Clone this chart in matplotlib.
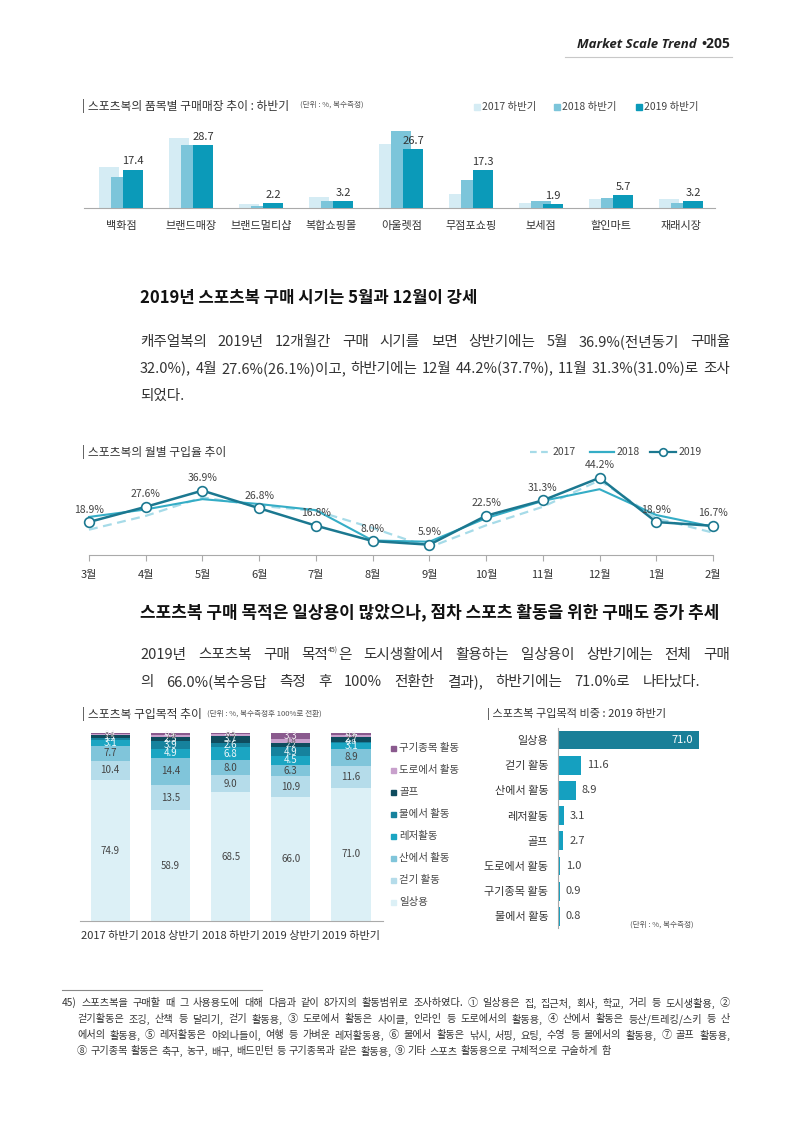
import matplotlib
matplotlib.use('Agg')
import matplotlib.pyplot as plt
from matplotlib.lines import Line2D
from matplotlib.patches import Rectangle

plt.rcParams['font.family'] = ['Noto Sans CJK KR', 'DejaVu Sans']

# ---------------- data ----------------
stores = ['백화점', '브랜드매장', '브랜드멀티샵', '복합쇼핑몰', '아울렛점',
          '무점포쇼핑', '보세점', '할인마트', '재래시장']
store_2017 = [18.5, 31.8, 1.7, 4.8, 29.0, 6.3, 2.2, 4.2, 4.2]
store_2018 = [14.1, 28.7, 1.0, 3.2, 34.8, 12.7, 3.1, 4.5, 2.3]
store_2019 = [17.4, 28.7, 2.2, 3.2, 26.7, 17.3, 1.9, 5.7, 3.2]
store_series = ['2017 하반기', '2018 하반기', '2019 하반기']

months = ['3월', '4월', '5월', '6월', '7월', '8월', '9월', '10월', '11월', '12월', '1월', '2월']
month_2017 = [14.5, 22.4, 33.0, 28.2, 25.3, 15.5, 4.4, 17.0, 27.6, 42.8, 21.0, 12.8]
month_2018 = [21.8, 26.1, 32.0, 29.2, 25.7, 8.3, 7.6, 21.1, 31.0, 37.7, 22.9, 16.2]
month_2019 = [18.9, 27.6, 36.9, 26.8, 16.8, 8.0, 5.9, 22.5, 31.3, 44.2, 18.9, 16.7]

periods = ['2017 하반기', '2018 상반기', '2018 하반기', '2019 상반기', '2019 하반기']
purposes = ['일상용', '걷기 활동', '산에서 활동', '레저활동', '물에서 활동', '골프',
            '도로에서 활동', '구기종목 활동']
p_daily = [74.9, 58.9, 68.5, 66.0, 71.0]
p_walk = [10.4, 13.5, 9.0, 10.9, 11.6]
p_mountain = [7.7, 14.4, 8.0, 6.3, 8.9]
p_leisure = [3.1, 4.9, 6.8, 4.5, 3.1]
p_water = [1.2, 3.9, 2.6, 4.9, 0.8]
p_golf = [1.5, 2.5, 3.7, 2.2, 2.7]
p_road = [0.8, 1.0, 0.9, 1.8, 1.0]
p_ball = [0.4, 0.9, 0.5, 3.3, 0.9]

share_labels = ['일상용', '걷기 활동', '산에서 활동', '레저활동', '골프', '도로에서 활동',
                '구기종목 활동', '물에서 활동']
share_values = [71.0, 11.6, 8.9, 3.1, 2.7, 1.0, 0.9, 0.8]

# ---------------- helpers ----------------
W, H = 800, 1131
fig = plt.figure(figsize=(8, 11.31), dpi=100)
fig.patch.set_facecolor('white')
R = fig.canvas.get_renderer()


def ax_px(l, t, r, b):
    return fig.add_axes([l / W, 1 - b / H, (r - l) / W, (b - t) / H])


def txt(x, y, s, **kw):
    kw.setdefault('va', 'center')
    return fig.text(x / W, 1 - y / H, s, **kw)


def square(x, y, size, color):
    fig.patches.append(Rectangle((x / W, 1 - (y + size / 2) / H), size / W, size / H,
                                 transform=fig.transFigure, color=color, zorder=5))


def hline(x0, x1, y, color='#999999', lw=0.8):
    fig.add_artist(Line2D([x0 / W, x1 / W], [1 - y / H, 1 - y / H],
                          transform=fig.transFigure, color=color, lw=lw))


def text_line(words, x0, x1, y, size, color='#333333', weight='normal', justify=True):
    """words: list of words; each word is a str or list of (text, size, dy_px)."""
    segs_all = []
    widths = []
    for w in words:
        segs = [(w, size, 0)] if isinstance(w, str) else w
        ws = []
        for s, fs, dy in segs:
            t = txt(x0, y - dy, s, fontsize=fs, color=color, ha='left', weight=weight)
            ws.append(t.get_window_extent(R).width)
            segs_all.append(t)
        widths.append(ws)
    total = sum(sum(ws) for ws in widths)
    if justify and len(words) > 1:
        gap = (x1 - x0 - total) / (len(words) - 1)
    else:
        gap = size * 100 / 72 * 0.3
    x = x0
    k = 0
    for ws in widths:
        for wseg in ws:
            t = segs_all[k]
            pos = t.get_position()
            t.set_position((x / W, pos[1]))
            x += wseg
            k += 1
        x += gap


# ---------------- header ----------------
txt(730, 44, '•205', fontsize=10, ha='right', weight='bold', color='#222222',
    family=['Open Sans', 'DejaVu Sans'])
txt(697, 44, 'Market Scale Trend', fontsize=9.5, ha='right', weight='bold', style='italic',
    color='#222222', family=['Open Sans', 'DejaVu Sans'])
hline(565, 732, 57, color='#c8c8c8', lw=0.8)

# ---------------- chart 1: stores ----------------
c_store = ['#d5ecf4', '#7cc5da', '#0b9ab9']
txt(82, 106, '| 스포츠복의 품목별 구매매장 추이 : 하반기', fontsize=8.5, color='#333333')
txt(300, 105, '(단위 : %, 복수측정)', fontsize=5.5, color='#555555')
for i, (lab, xx) in enumerate(zip(store_series, [474, 554, 636])):
    square(xx, 107, 6, c_store[i])
    txt(xx + 8, 107, lab, fontsize=7.5, color='#444444')

ax1 = ax_px(84, 115, 715, 208)
bw = 20 / 70
offs = [-12 / 70, 0, 12 / 70]
for k, vals in enumerate([store_2017, store_2018, store_2019]):
    ax1.bar([i + offs[k] for i in range(len(stores))], vals, width=bw, color=c_store[k],
            zorder=2 + k)
for i, v in enumerate(store_2019):
    ax1.text(i + offs[2], v + 1.5, f'{v:.1f}', ha='center', va='bottom', fontsize=8,
             color='#333333')
ax1.set_xlim(-0.53, 8.48)
ax1.set_ylim(0, 42.3)
ax1.set_yticks([])
ax1.set_xticks(range(len(stores)))
ax1.set_xticklabels(stores, fontsize=8, color='#333333')
ax1.tick_params(axis='x', length=0, pad=9)
for s in ['top', 'right', 'left']:
    ax1.spines[s].set_visible(False)
ax1.spines['bottom'].set_color('#aaaaaa')
ax1.patch.set_alpha(0)

# ---------------- section 1 text ----------------
txt(140, 298, '2019년 스포츠복 구매 시기는 5월과 12월이 강세', fontsize=12, weight='bold',
    color='#111111')
p1 = ['캐주얼복의 2019년 12개월간 구매 시기를 보면 상반기에는 5월 36.9%(전년동기 구매율',
      '32.0%), 4월 27.6%(26.1%)이고, 하반기에는 12월 44.2%(37.7%), 11월 31.3%(31.0%)로 조사',
      '되었다.']
text_line(p1[0].split(' '), 140, 730, 342, 10.5)
text_line(p1[1].split(' '), 140, 730, 369, 10.5)
text_line([p1[2]], 140, 730, 396, 10.5, justify=False)

# ---------------- chart 2: monthly ----------------
c17, c18, c19 = '#a6dbe8', '#35adc6', '#1b7890'
txt(82, 452, '| 스포츠복의 월별 구입율 추이', fontsize=8.5, color='#333333')
fig.add_artist(Line2D([530 / W, 550 / W], [1 - 452 / H] * 2, transform=fig.transFigure,
                      color=c17, lw=1.6, ls=(0, (3, 2))))
txt(553, 452, '2017', fontsize=7.5, color='#444444')
fig.add_artist(Line2D([590 / W, 614 / W], [1 - 452 / H] * 2, transform=fig.transFigure,
                      color=c18, lw=1.6))
txt(617, 452, '2018', fontsize=7.5, color='#444444')
fig.add_artist(Line2D([650 / W, 676 / W], [1 - 452 / H] * 2, transform=fig.transFigure,
                      color=c19, lw=1.6))
fig.add_artist(Line2D([663 / W], [1 - 452 / H], transform=fig.transFigure, marker='o',
                      markersize=5.5, markerfacecolor='white', markeredgecolor=c19, mew=1.2))
txt(679, 452, '2019', fontsize=7.5, color='#444444')

ax2 = ax_px(89, 459, 713, 555)
x = list(range(len(months)))
ax2.plot(x, month_2017, color=c17, lw=1.6, ls=(0, (4, 2.5)), zorder=2, clip_on=False)
ax2.plot(x, month_2018, color=c18, lw=1.5, zorder=3, clip_on=False)
ax2.plot(x, month_2019, color=c19, lw=1.8, zorder=4, marker='o', markersize=7,
         markerfacecolor='white', markeredgecolor=c19, mew=1.2, clip_on=False)
for i, v in enumerate(month_2019):
    ax2.annotate(f'{v:.1f}%', (i, v), xytext=(0, 9), textcoords='offset points',
                 ha='center', va='center', fontsize=7.5, color='#444444', zorder=6)
ax2.set_xlim(0, 11)
ax2.set_ylim(0, 55)
ax2.set_yticks([])
ax2.set_xticks(x)
ax2.set_xticklabels(months, fontsize=8, color='#333333')
ax2.tick_params(axis='x', length=4, pad=7, color='#aaaaaa')
for s in ['top', 'right', 'left']:
    ax2.spines[s].set_visible(False)
ax2.spines['bottom'].set_color('#aaaaaa')
ax2.patch.set_alpha(0)

# ---------------- section 2 text ----------------
txt(140, 612, '스포츠복 구매 목적은 일상용이 많았으나, 점차 스포츠 활동을 위한 구매도 증가 추세',
    fontsize=12.2, weight='bold', color='#111111')
w2 = ['2019년', '스포츠복', '구매', [('목적', 10.5, 0), ('45)', 5, 4), ('은', 10.5, 0)],
      '도시생활에서', '활용하는', '일상용이', '상반기에는', '전체', '구매']
text_line(w2, 140, 730, 655, 10.5)
text_line('의 66.0%(복수응답 측정 후 100% 전환한 결과), 하반기에는 71.0%로 나타났다.'.split(' '),
          140, 700, 682, 10.5)

# ---------------- chart 3: stacked ----------------
c_purp = ['#dcf0f6', '#b5dcea', '#80c5da', '#1ba5c2', '#16829d', '#0f4c5e', '#c8a0cc',
          '#8a5a8e']
lab_col = ['#444444', '#444444', '#444444', '#eef8fb', '#eef8fb', '#eef8fb', '#555555',
           '#f3eaf4']
txt(82, 714, '| 스포츠복 구입목적 추이', fontsize=8.5, color='#333333')
txt(207, 714, '(단위 : %, 복수측정후 100%로 전환)', fontsize=5.5, color='#555555')

ax3 = ax_px(80, 733, 383, 921)
series = [p_daily, p_walk, p_mountain, p_leisure, p_water, p_golf, p_road, p_ball]
bottom = [0.0] * len(periods)
for k, vals in enumerate(series):
    ax3.bar(range(len(periods)), vals, bottom=bottom, width=0.65, color=c_purp[k],
            zorder=2)
    for i, v in enumerate(vals):
        fs = 7 if v >= 2.5 else 5.5
        ax3.text(i, bottom[i] + v / 2, f'{v:.1f}', ha='center', va='center', fontsize=fs,
                 color=lab_col[k], zorder=3)
    bottom = [b + v for b, v in zip(bottom, vals)]
ax3.set_xlim(-0.5, 4.53)
ax3.set_ylim(0, 100)
ax3.set_yticks([])
ax3.set_xticks(range(len(periods)))
ax3.set_xticklabels(periods, fontsize=8, color='#333333')
ax3.tick_params(axis='x', length=0, pad=7)
for s in ['top', 'right', 'left']:
    ax3.spines[s].set_visible(False)
ax3.spines['bottom'].set_color('#aaaaaa')
ax3.patch.set_alpha(0)

leg_y = [748, 770, 792, 814, 836, 858, 880, 902]
for j, k in enumerate(range(len(purposes) - 1, -1, -1)):
    square(391, leg_y[j], 5, c_purp[k])
    txt(399, leg_y[j], purposes[k], fontsize=7.5, color='#444444')

# ---------------- chart 4: horizontal share ----------------
txt(487, 714, '| 스포츠복 구입목적 비중 : 2019 하반기', fontsize=8, color='#333333')
ax4 = ax_px(558, 728, 740, 928)
hcol = ['#197f98'] + ['#15a0c0'] * (len(share_values) - 1)
ax4.barh(range(len(share_values)), share_values, height=0.75, color=hcol, zorder=2)
for i, v in enumerate(share_values):
    if i == 0:
        ax4.text(v - 3, i, f'{v:.1f}', ha='right', va='center', fontsize=8, color='white')
    else:
        ax4.text(v + 3, i, f'{v:.1f}', ha='left', va='center', fontsize=8, color='#444444')
ax4.set_xlim(0, 91.5)
ax4.set_ylim(7.46, -0.476)
ax4.set_xticks([])
ax4.set_yticks(range(len(share_labels)))
ax4.set_yticklabels(share_labels, fontsize=8, color='#333333')
ax4.tick_params(axis='y', length=0, pad=7)
for s in ['top', 'right', 'bottom']:
    ax4.spines[s].set_visible(False)
ax4.spines['left'].set_color('#aaaaaa')
ax4.patch.set_alpha(0)
txt(630, 925, '(단위 : %, 복수측정)', fontsize=5.5, color='#555555')

# ---------------- footnote ----------------
hline(62, 262, 990, color='#888888', lw=0.8)
fn = ['45) 스포츠복을 구매할 때 그 사용용도에 대해 다음과 같이 8가지의 활동범위로 조사하였다. ① 일상용은 집, 집근처, 회사, 학교, 거리 등 도시생활용, ②',
      '걷기활동은 조깅, 산책 등 달리기, 걷기 활동용, ③ 도로에서 활동은 사이클, 인라인 등 도로에서의 활동용, ④ 산에서 활동은 등산/트레킹/스키 등 산',
      '에서의 활동용, ⑤ 레저활동은 야외나들이, 여행 등 가벼운 레저활동용, ⑥ 물에서 활동은 낚시, 서핑, 요팅, 수영 등 물에서의 활동용, ⑦ 골프 활동용,',
      '⑧ 구기종목 활동은 축구, 농구, 배구, 배드민턴 등 구기종목과 같은 활동용, ⑨ 기타 스포츠 활동용으로 구체적으로 구술하게 함']
text_line(fn[0].split(' '), 62, 730, 1003, 7.3)
text_line(fn[1].split(' '), 77, 730, 1019, 7.3)
text_line(fn[2].split(' '), 77, 730, 1035, 7.3)
text_line(fn[3].split(' '), 77, 730, 1051, 7.3, justify=False)

fig.savefig('out.png', dpi=100, facecolor='white')
